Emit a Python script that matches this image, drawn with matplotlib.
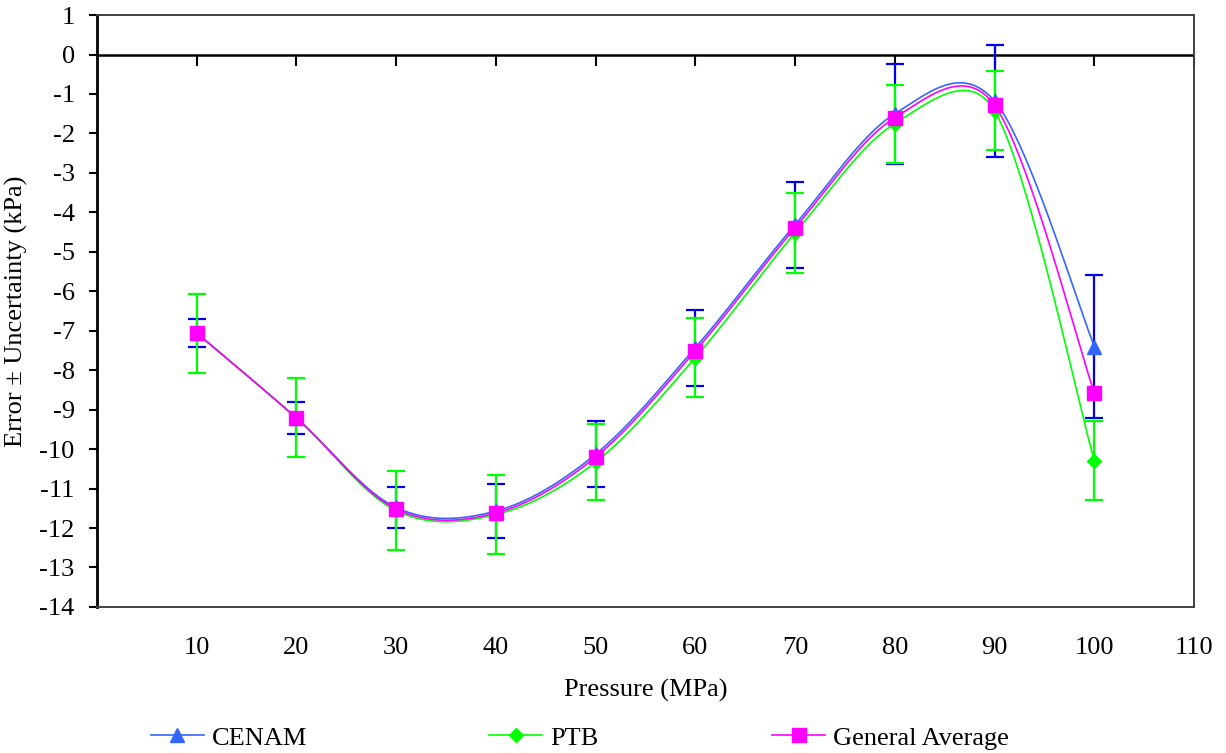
import numpy as np
import matplotlib
matplotlib.use("Agg")
import matplotlib.pyplot as plt
from matplotlib.lines import Line2D

# Pressure points (MPa)
pressure = [10, 20, 30, 40, 50, 60, 70, 80, 90, 100]

# Error of each laboratory and its expanded uncertainty (kPa)
cenam = [-7.05, -9.21, -11.48, -11.57, -10.13, -7.43, -4.31, -1.50, -1.18, -7.40]
cenam_u = [0.35, 0.40, 0.52, 0.69, 0.84, 0.96, 1.09, 1.27, 1.41, 1.81]
ptb = [-7.06, -9.21, -11.56, -11.66, -10.33, -7.68, -4.52, -1.75, -1.43, -10.30]
ptb_u = [1.00, 1.00, 1.00, 1.00, 0.97, 1.00, 1.02, 0.99, 1.00, 1.00]
general_avg = [-7.06, -9.21, -11.52, -11.62, -10.20, -7.51, -4.39, -1.60, -1.29, -8.58]

x_ticks = [10, 20, 30, 40, 50, 60, 70, 80, 90, 100, 110]
y_ticks = list(range(-14, 2))

plt.rcParams["font.family"] = ["Liberation Serif", "DejaVu Serif"]
FS = 19


def smooth(ax, xs, ys, n=40):
    """Smoothed line through the points: cubic Bezier segments in screen
    space, handles = 1/6 of the neighbour chord, capped at half the segment."""
    p = ax.transData.transform(np.column_stack([xs, ys]).astype(float))
    m = len(p)
    out = []
    for i in range(m - 1):
        p0 = p[i - 1] if i > 0 else p[i]
        p1, p2 = p[i], p[i + 1]
        p3 = p[i + 2] if i + 2 < m else p[i + 1]
        d12 = np.hypot(*(p2 - p1))
        t1 = (p2 - p0) / 6.0
        t2 = (p3 - p1) / 6.0
        l1, l2 = np.hypot(*t1), np.hypot(*t2)
        if l1 > d12 / 2:
            t1 = t1 * (d12 / 2) / l1
        if l2 > d12 / 2:
            t2 = t2 * (d12 / 2) / l2
        c1 = p1 + t1
        c2 = p2 - t2
        t = np.linspace(0, 1, n, endpoint=(i == m - 2))[:, None]
        seg = ((1 - t) ** 3) * p1 + 3 * ((1 - t) ** 2) * t * c1 \
            + 3 * (1 - t) * (t ** 2) * c2 + (t ** 3) * p2
        out.append(seg)
    c = ax.transData.inverted().transform(np.vstack(out))
    return c[:, 0], c[:, 1]


fig = plt.figure(figsize=(12.26, 7.53), dpi=100)
ax = fig.add_axes([0.079, 0.194, 0.895, 0.786])
ax.set_xlim(0, 110)
ax.set_ylim(-14, 1)

blue_line = "#3366FF"
blue_bar = "#0000EE"
green = "#00FF00"
magenta = "#FF00FF"

# uncertainty bars
ax.errorbar(pressure, cenam, yerr=cenam_u, fmt="none", ecolor=blue_bar,
            elinewidth=1.6, capsize=6.5, capthick=1.6, zorder=2)
ax.errorbar(pressure, ptb, yerr=ptb_u, fmt="none", ecolor=green,
            elinewidth=1.6, capsize=6.5, capthick=1.6, zorder=2)

# smoothed lines
for ys, col in ((cenam, blue_line), (ptb, green), (general_avg, magenta)):
    sx, sy = smooth(ax, pressure, ys)
    ax.plot(sx, sy, color=col, lw=1.2, zorder=3)

# markers
ax.plot(pressure, cenam, linestyle="none", marker="^", ms=10, color=blue_line,
        mec=blue_line, zorder=4)
ax.plot(pressure, ptb, linestyle="none", marker="D", ms=7.5, color=green,
        mec=green, zorder=4)
ax.plot(pressure, general_avg, linestyle="none", marker="s", ms=9.5,
        color=magenta, mec=magenta, zorder=5)

# zero axis with its tick marks
ax.axhline(0, color="black", lw=1.8, zorder=1)
ax.plot(x_ticks, [0] * len(x_ticks), linestyle="none", marker=3, ms=8,
        mew=1.5, color="black", zorder=1, clip_on=False)

ax.set_xticks(x_ticks)
ax.set_xticklabels([str(v) for v in x_ticks])
ax.set_yticks(y_ticks)
ax.set_yticklabels([str(v) for v in y_ticks])
ax.tick_params(axis="x", length=0, pad=22, labelsize=FS)
ax.tick_params(axis="y", length=6, width=1.5, direction="out", pad=10,
               labelsize=FS)

for side in ("top", "right", "bottom"):
    ax.spines[side].set_color("#404040")
    ax.spines[side].set_linewidth(1.4)
ax.spines["left"].set_color("black")
ax.spines["left"].set_linewidth(2.0)

ax.set_xlabel("Pressure (MPa)", fontsize=FS, labelpad=14)
ax.set_ylabel("Error ± Uncertainty (kPa)", fontsize=FS, labelpad=8)

# legend entries placed along the bottom
entries = [
    ("CENAM", blue_line, "^", 10, 0.123),
    ("PTB", green, "D", 7.5, 0.399),
    ("General Average", magenta, "s", 9.5, 0.630),
]
for label, col, mk, ms, xpos in entries:
    h = Line2D([], [], color=col, lw=1.2, marker=mk, ms=ms, mec=col)
    fig.legend(handles=[h], labels=[label], loc="center left",
               bbox_to_anchor=(xpos, 0.02), frameon=False, fontsize=FS,
               handlelength=2.0, handletextpad=0.3, borderpad=0.0,
               borderaxespad=0.0)

fig.savefig("out.png", dpi=100)
